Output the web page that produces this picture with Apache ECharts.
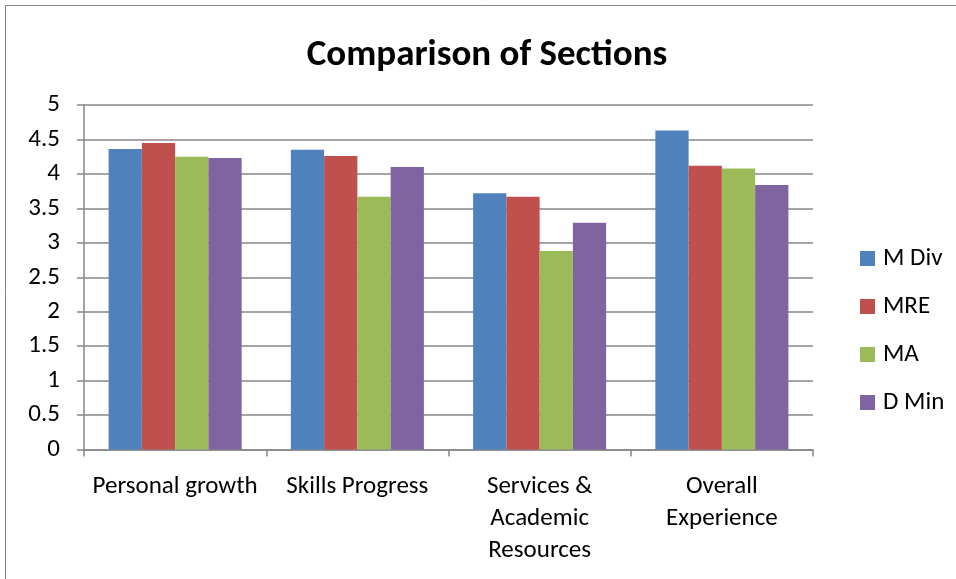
<!DOCTYPE html>
<html>
<head>
<meta charset="utf-8">
<script src="https://cdn.jsdelivr.net/npm/echarts@6/dist/echarts.min.js"></script>
<style>
  html, body { margin: 0; padding: 0; background: #fff; }
  #chart { width: 956px; height: 579px; }
</style>
</head>
<body>
<div id="chart"></div>
<script>
// Average section ratings by programme
const categories = ['Personal growth', 'Skills Progress', 'Services &\nAcademic\nResources', 'Overall\nExperience'];
const seriesNames = ['M Div', 'MRE', 'MA', 'D Min'];
const mDiv = [4.36, 4.35, 3.72, 4.63];
const mre  = [4.45, 4.26, 3.67, 4.12];
const ma   = [4.25, 3.67, 2.88, 4.08];
const dMin = [4.23, 4.10, 3.29, 3.84];
const yTicks = [0, 0.5, 1, 1.5, 2, 2.5, 3, 3.5, 4, 4.5, 5];

const colors = ['#4F81BD', '#C0504D', '#9BBB59', '#8064A2'];
const values = [mDiv, mre, ma, dMin];
const fontFamily = 'Carlito, Lato, "Open Sans", sans-serif';

const chart = echarts.init(document.getElementById('chart'));
chart.setOption({
  animation: false,
  color: colors,
  textStyle: { fontFamily: fontFamily },
  graphic: [{
    type: 'rect',
    shape: { x: 5.5, y: 5.5, width: 1000, height: 1000 },
    style: { fill: 'none', stroke: '#868686', lineWidth: 1 },
    silent: true
  }],
  title: {
    text: 'Comparison of Sections',
    left: 482,
    top: 32,
    textAlign: 'center',
    textStyle: { fontFamily: fontFamily, fontSize: 37, fontWeight: 'bold', color: '#000' }
  },
  legend: {
    orient: 'vertical',
    left: 855,
    top: 241,
    itemWidth: 15,
    itemHeight: 15,
    itemGap: 23,
    icon: 'rect',
    data: seriesNames,
    textStyle: { fontFamily: fontFamily, fontSize: 25, color: '#000', padding: [0, 0, 0, 3] }
  },
  grid: { left: 84, right: 143, top: 105, bottom: 129.5 },
  xAxis: {
    type: 'category',
    data: categories,
    axisLine: { lineStyle: { color: '#868686', width: 1.5 } },
    axisTick: { show: true, length: 7, inside: false, lineStyle: { color: '#868686', width: 1.5 } },
    axisLabel: {
      interval: 0,
      margin: 21,
      fontSize: 25,
      lineHeight: 32,
      color: '#000',
      fontFamily: fontFamily
    }
  },
  yAxis: {
    type: 'value',
    min: yTicks[0],
    max: yTicks[yTicks.length - 1],
    interval: 0.5,
    axisLine: { show: true, lineStyle: { color: '#868686', width: 1.5 } },
    axisTick: { show: true, length: 7, lineStyle: { color: '#868686', width: 1.5 } },
    splitLine: { lineStyle: { color: '#868686', width: 1.5 } },
    axisLabel: { margin: 24, fontSize: 25, color: '#000', fontFamily: fontFamily }
  },
  series: seriesNames.map((name, i) => ({
    name: name,
    type: 'bar',
    data: values[i],
    barGap: '0%',
    barCategoryGap: '27%',
    itemStyle: { color: colors[i] }
  }))
});
</script>
</body>
</html>
